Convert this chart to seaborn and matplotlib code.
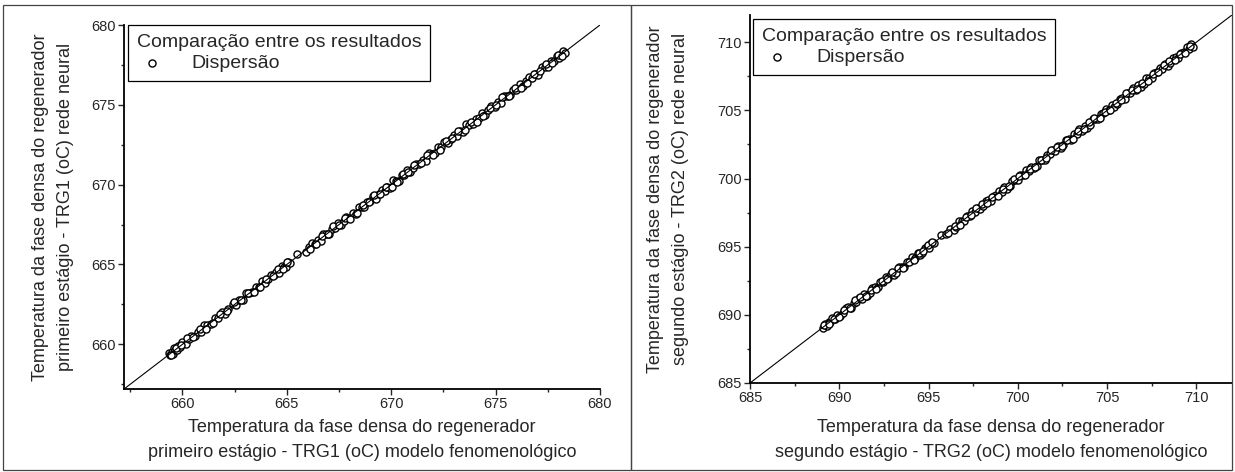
import numpy as np
import pandas as pd
from matplotlib import pyplot as plt
from matplotlib.patches import Rectangle
import seaborn as sns

# primeiro estagio - TRG1 (modelo fenomenologico x rede neural)
trg1_modelo = [659.35, 659.42, 659.48, 659.55, 659.60, 659.66, 659.72, 659.80, 659.90, 660.00,
               660.15, 660.30, 660.42, 660.60, 660.75, 660.90, 661.05, 661.20, 661.38, 661.55,
               661.70, 661.90, 662.05, 662.20, 662.40, 662.55, 662.70, 662.90, 663.05, 663.20,
               663.35, 663.50, 663.65, 663.80, 663.95, 664.10, 664.25, 664.40, 664.50, 664.62,
               664.75, 664.85, 664.95, 665.05, 665.15, 665.50, 665.90, 666.05, 666.20, 666.35,
               666.50, 666.62, 666.75, 666.90, 667.00, 667.15, 667.30, 667.45, 667.60, 667.72,
               667.85, 668.00, 668.15, 668.30, 668.45, 668.60, 668.72, 668.85, 669.00, 669.12,
               669.25, 669.40, 669.55, 669.70, 669.82, 669.95, 670.10, 670.22, 670.35, 670.50,
               670.62, 670.75, 670.90, 671.05, 671.20, 671.35, 671.50, 671.65, 671.80, 671.95,
               672.10, 672.25, 672.40, 672.55, 672.70, 672.85, 673.00, 673.15, 673.30, 673.45,
               673.60, 673.75, 673.90, 674.05, 674.20, 674.35, 674.50, 674.65, 674.80, 674.95,
               675.10, 675.25, 675.40, 675.55, 675.70, 675.85, 676.00, 676.15, 676.30, 676.45,
               676.60, 676.75, 676.90, 677.05, 677.20, 677.35, 677.50, 677.65, 677.80, 677.95,
               678.05, 678.15, 678.25, 678.32,
               659.45, 659.70, 659.95, 660.22, 660.50, 660.82, 661.12, 661.45, 661.80, 662.12,
               662.48, 662.82, 663.12, 663.42, 663.72, 664.02, 664.32, 664.58, 664.80, 665.02,
               666.12, 666.42, 666.70, 666.95, 667.22, 667.52, 667.78, 668.05, 668.38, 668.65,
               668.92, 669.18, 669.48, 669.75, 670.02, 670.28, 670.55, 670.82, 671.10, 671.42,
               671.72, 672.02, 672.32, 672.62, 672.92, 673.22, 673.52, 673.82, 674.12, 674.42,
               674.72, 675.02, 675.32, 675.62, 675.92, 676.22, 676.52, 676.82, 677.12, 677.42,
               677.72, 678.00, 678.20]
trg1_rede = [659.47, 659.34, 659.53, 659.40, 659.78, 659.66, 659.62, 659.88, 659.86, 660.14,
             660.03, 660.32, 660.54, 660.52, 660.80, 660.75, 661.23, 661.20, 661.28, 661.63,
             661.66, 662.04, 661.93, 662.22, 662.52, 662.47, 662.75, 662.75, 663.23, 663.20,
             663.25, 663.58, 663.61, 663.94, 663.83, 664.12, 664.37, 664.32, 664.55, 664.47,
             664.93, 664.85, 664.85, 665.13, 665.11, 665.64, 665.78, 666.07, 666.32, 666.27,
             666.55, 666.47, 666.93, 666.90, 666.90, 667.23, 667.26, 667.59, 667.48, 667.74,
             667.97, 667.92, 668.20, 668.15, 668.63, 668.60, 668.62, 668.93, 668.96, 669.26,
             669.13, 669.42, 669.67, 669.62, 669.87, 669.80, 670.28, 670.22, 670.25, 670.58,
             670.58, 670.89, 670.78, 671.07, 671.32, 671.27, 671.55, 671.50, 671.98, 671.95,
             672.00, 672.33, 672.36, 672.69, 672.58, 672.87, 673.12, 673.07, 673.35, 673.30,
             673.78, 673.75, 673.80, 674.13, 674.16, 674.49, 674.38, 674.67, 674.92, 674.87,
             675.15, 675.10, 675.58, 675.55, 675.60, 675.93, 675.96, 676.29, 676.18, 676.47,
             676.72, 676.67, 676.95, 676.90, 677.38, 677.35, 677.40, 677.73, 677.76, 678.09,
             677.93, 678.17, 678.37, 678.24,
             659.32, 659.79, 659.93, 660.38, 660.43, 660.93, 660.95, 661.32, 661.89, 662.10,
             662.64, 662.75, 663.23, 663.25, 663.59, 664.11, 664.30, 664.74, 664.73, 665.13,
             665.95, 666.29, 666.79, 666.93, 667.38, 667.45, 667.89, 667.88, 668.25, 668.74,
             668.90, 669.34, 669.41, 669.86, 669.85, 670.15, 670.64, 670.80, 671.26, 671.35,
             671.83, 671.85, 672.19, 672.71, 672.90, 673.38, 673.45, 673.93, 673.95, 674.29,
             674.81, 675.00, 675.48, 675.55, 676.03, 676.05, 676.39, 676.91, 677.10, 677.58,
             677.65, 678.11, 678.03]

# segundo estagio - TRG2
trg2_modelo = [689.10, 689.18, 689.25, 689.32, 689.40, 689.50, 689.62, 689.75, 689.90, 690.05,
               690.20, 690.35, 690.50, 690.65, 690.80, 690.95, 691.10, 691.25, 691.40, 691.55,
               691.70, 691.85, 692.00, 692.15, 692.30, 692.45, 692.60, 692.75, 692.90, 693.05,
               693.20, 693.35, 693.50, 693.65, 693.80, 693.95, 694.10, 694.25, 694.40, 694.52,
               694.65, 694.78, 694.90, 695.02, 695.15, 695.30, 695.70, 696.00, 696.20, 696.40,
               696.55, 696.70, 696.85, 697.00, 697.15, 697.30, 697.45, 697.60, 697.75, 697.90,
               698.05, 698.20, 698.35, 698.50, 698.65, 698.80, 698.95, 699.10, 699.25, 699.40,
               699.55, 699.70, 699.85, 700.00, 700.15, 700.30, 700.45, 700.60, 700.75, 700.90,
               701.05, 701.20, 701.35, 701.50, 701.65, 701.80, 701.95, 702.10, 702.25, 702.40,
               702.55, 702.70, 702.85, 703.00, 703.15, 703.30, 703.45, 703.60, 703.75, 703.90,
               704.05, 704.20, 704.35, 704.50, 704.65, 704.80, 704.95, 705.10, 705.25, 705.40,
               705.55, 705.70, 705.85, 706.00, 706.15, 706.30, 706.45, 706.60, 706.75, 706.90,
               707.05, 707.20, 707.35, 707.50, 707.65, 707.80, 707.95, 708.10, 708.25, 708.40,
               708.55, 708.70, 708.85, 709.00, 709.15, 709.30, 709.45, 709.60, 709.72, 709.82,
               689.15, 689.45, 689.70, 689.98, 690.28, 690.58, 690.88,
               691.18, 691.48, 691.78, 692.08, 692.38, 692.68, 692.98,
               693.28, 693.58, 693.88, 694.18, 694.45, 694.70, 694.95,
               695.20, 696.10, 696.48, 696.78, 697.08, 697.38, 697.68,
               697.98, 698.28, 698.58, 698.88, 699.18, 699.48, 699.78,
               700.08, 700.38, 700.68, 700.98, 701.28, 701.58, 701.88,
               702.18, 702.48, 702.78, 703.08, 703.38, 703.68, 703.98,
               704.28, 704.58, 704.88, 705.18, 705.48, 705.78, 706.08,
               706.38, 706.68, 706.98, 707.28, 707.58, 707.88, 708.18,
               708.48, 708.78, 709.08, 709.38, 709.65]
trg2_rede = [689.00, 689.33, 689.29, 689.18, 689.49, 689.48, 689.79, 689.67, 690.02, 689.89,
             690.10, 690.50, 690.54, 690.51, 690.89, 690.93, 691.27, 691.17, 691.52, 691.39,
             691.60, 692.00, 692.04, 692.01, 692.39, 692.43, 692.77, 692.67, 693.02, 692.89,
             693.10, 693.50, 693.54, 693.51, 693.89, 693.93, 694.27, 694.17, 694.52, 694.36,
             694.55, 694.93, 694.94, 694.88, 695.24, 695.28, 695.87, 695.92, 696.32, 696.24,
             696.45, 696.85, 696.89, 696.86, 697.24, 697.28, 697.62, 697.52, 697.87, 697.74,
             697.95, 698.35, 698.39, 698.36, 698.74, 698.78, 699.12, 699.02, 699.37, 699.24,
             699.45, 699.85, 699.89, 699.86, 700.24, 700.28, 700.62, 700.52, 700.87, 700.74,
             700.95, 701.35, 701.39, 701.36, 701.74, 701.78, 702.12, 702.02, 702.37, 702.24,
             702.45, 702.85, 702.89, 702.86, 703.24, 703.28, 703.62, 703.52, 703.87, 703.74,
             703.95, 704.35, 704.39, 704.36, 704.74, 704.78, 705.12, 705.02, 705.37, 705.24,
             705.45, 705.85, 705.89, 705.86, 706.24, 706.28, 706.62, 706.52, 706.87, 706.74,
             706.95, 707.35, 707.39, 707.36, 707.74, 707.78, 708.12, 708.02, 708.37, 708.24,
             708.45, 708.85, 708.89, 708.86, 709.24, 709.28, 709.62, 709.52, 709.84, 709.66,
             689.29, 689.34, 689.73, 689.82, 690.36, 690.53, 691.06,
             691.32, 691.37, 691.81, 691.92, 692.46, 692.63, 693.16,
             693.42, 693.47, 693.91, 694.02, 694.53, 694.65, 695.13,
             695.34, 695.99, 696.51, 696.62, 697.16, 697.33, 697.86,
             698.12, 698.17, 698.61, 698.72, 699.26, 699.43, 699.96,
             700.22, 700.27, 700.71, 700.82, 701.36, 701.53, 702.06,
             702.32, 702.37, 702.81, 702.92, 703.46, 703.63, 704.16,
             704.42, 704.47, 704.91, 705.02, 705.56, 705.73, 706.26,
             706.52, 706.57, 707.01, 707.12, 707.66, 707.83, 708.36,
             708.62, 708.67, 709.11, 709.22, 709.73]

lim1 = [657.2, 680]
lim2 = [685, 712]
ticks1 = [660, 665, 670, 675, 680]
ticks2 = [685, 690, 695, 700, 705, 710]

xlab1 = "Temperatura da fase densa do regenerador\nprimeiro estágio - TRG1 (oC) modelo fenomenológico"
ylab1 = "Temperatura da fase densa do regenerador\nprimeiro estágio - TRG1 (oC) rede neural"
xlab2 = "Temperatura da fase densa do regenerador\nsegundo estágio - TRG2 (oC) modelo fenomenológico"
ylab2 = "Temperatura da fase densa do regenerador\nsegundo estágio - TRG2 (oC) rede neural"

sns.set_theme(style="ticks")
plt.rcParams['font.family'] = ['Liberation Sans', 'DejaVu Sans']

fig = plt.figure(figsize=(12.35, 4.72), dpi=100)
ax1 = fig.add_axes([0.1004, 0.1758, 0.3854, 0.7712])
ax2 = fig.add_axes([0.6073, 0.1886, 0.3903, 0.7797])

# molduras dos dois quadros
fig.patches.append(Rectangle((3 / 1235, 2 / 472), 628 / 1235, 465 / 472, transform=fig.transFigure,
                             fill=False, edgecolor='#444444', linewidth=0.9))
fig.patches.append(Rectangle((631 / 1235, 2 / 472), 601 / 1235, 465 / 472, transform=fig.transFigure,
                             fill=False, edgecolor='#444444', linewidth=0.9))


def painel(ax, xs, ys, lim, ticks, xlab, ylab, ylab_x, xlab_y, anchor):
    df = pd.DataFrame({'modelo': xs, 'rede': ys})
    sns.lineplot(x=lim, y=lim, ax=ax, color='black', linewidth=0.8)
    sns.scatterplot(data=df, x='modelo', y='rede', ax=ax, marker='o', s=26,
                    facecolor='white', edgecolor='black', linewidth=1.0, label='Dispersão')
    menores = [t - 2.5 for t in ticks] + [ticks[-1] + 2.5]
    menores = [m for m in menores if lim[0] <= m <= lim[1]]
    ax.set_xticks(ticks)
    ax.set_yticks(ticks)
    ax.set_xticks(menores, minor=True)
    ax.set_yticks(menores, minor=True)
    ax.set_xlim(lim)
    ax.set_ylim(lim)
    ax.tick_params(which='major', direction='out', length=4, width=1, labelsize=10.5, pad=2)
    ax.tick_params(which='minor', direction='out', length=2.5, width=1)
    ax.tick_params(axis='y', which='both', left=True)
    ax.tick_params(axis='x', which='both', bottom=True)
    sns.despine(ax=ax)
    for s in ['left', 'bottom']:
        ax.spines[s].set_linewidth(1.3)
        ax.spines[s].set_color('black')
    ax.set_xlabel(xlab, fontsize=13, linespacing=1.55)
    ax.set_ylabel(ylab, fontsize=13, linespacing=1.55)
    ax.yaxis.set_label_coords(ylab_x, 0.5)
    ax.xaxis.set_label_coords(0.5, xlab_y)
    ax.xaxis.label.set_va('center')
    ax.yaxis.label.set_va('center')
    leg = ax.legend(loc='upper left', bbox_to_anchor=anchor, title='Comparação entre os resultados',
                    fontsize=14, title_fontsize=14, alignment='left', fancybox=False,
                    framealpha=1, edgecolor='black', borderpad=0.45, handletextpad=1.2,
                    handlelength=1.6, borderaxespad=0, labelspacing=0.2)
    leg.get_frame().set_linewidth(0.9)


painel(ax1, trg1_modelo, trg1_rede, lim1, ticks1, xlab1, ylab1, -0.149, -0.140, (4 / 476, 1.0))
painel(ax2, trg2_modelo, trg2_rede, lim2, ticks2, xlab2, ylab2, -0.170, -0.155, (3 / 482, 1 - 4 / 368))

plt.savefig('out.png', dpi=100)
